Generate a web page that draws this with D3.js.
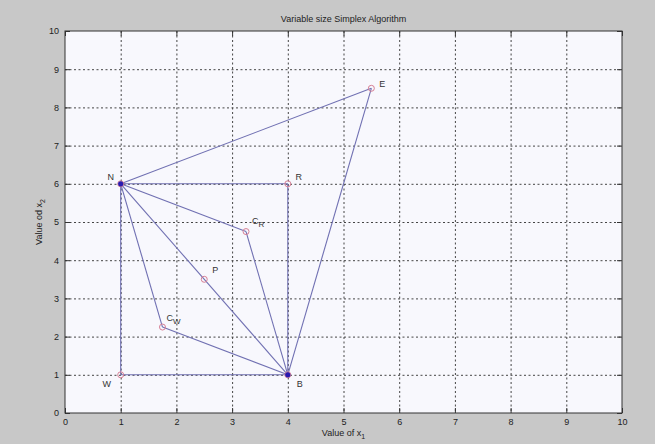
<!DOCTYPE html>
<html lang="en">
<head>
  <meta charset="UTF-8">
  <title>Variable size Simplex Algorithm</title>
  <script src="https://cdn.jsdelivr.net/npm/d3@7"></script>
  <style>
    body { margin: 0; background: #c8c8c8; }
    svg { display: block; font-family: "Liberation Sans", Arial, sans-serif; }
    .axis path { stroke: none; }
    .axis line { stroke: #333; }
    .axis text { font-size: 9px; fill: #222; }
    .grid line { stroke: #444; stroke-dasharray: 2,2.5; }
    .grid path { stroke: none; }
    .lbl { font-size: 9px; fill: #333; }
  </style>
</head>
<body>
  <script>
    // points of the simplex
    const names = ['N', 'W', 'B', 'R', 'E', 'P', 'C', 'C']
    const subs = ['', '', '', '', '', '', 'R', 'W']
    const xs = [1, 1, 4, 4, 5.5, 2.5, 3.25, 1.75]
    const ys = [6, 1, 1, 6, 8.5, 3.5, 4.75, 2.25]
    // label offsets in px (dx, dy)
    const ldx = [-10, -14, 12, 11, 11, 11, 12, 11]
    const ldy = [-4, 12, 12, -4, -1, -6, -8, -6]
    // segments between point indices
    const edges = [[0, 4], [4, 2], [0, 3], [3, 2], [0, 1], [1, 2], [0, 2], [0, 6], [6, 2], [0, 7], [7, 2]]
    const ticks = [0, 1, 2, 3, 4, 5, 6, 7, 8, 9, 10]

    const width = 655, height = 444
    const m = { left: 65, top: 31, right: 33, bottom: 31 }
    const w = width - m.left - m.right
    const h = height - m.top - m.bottom

    const svg = d3.select('body').append('svg')
      .attr('width', width)
      .attr('height', height)

    svg.append('rect').attr('width', width).attr('height', height).attr('fill', '#c8c8c8')

    const g = svg.append('g').attr('transform', `translate(${m.left},${m.top})`)

    const x = d3.scaleLinear().domain([0, 10]).range([0, w])
    const y = d3.scaleLinear().domain([0, 10]).range([h, 0])

    g.append('rect').attr('width', w).attr('height', h).attr('fill', '#f8f8fd')

    // grid
    g.append('g').attr('class', 'grid')
      .call(d3.axisBottom(x).tickValues(ticks.slice(1, -1)).tickSize(h).tickFormat(''))
    g.append('g').attr('class', 'grid')
      .call(d3.axisLeft(y).tickValues(ticks.slice(1, -1)).tickSize(-w).tickFormat(''))

    // axes, ticks pointing inward like matlab
    g.append('g').attr('class', 'axis').attr('transform', `translate(0,${h})`)
      .call(d3.axisBottom(x).tickValues(ticks).tickSizeInner(-5).tickSizeOuter(0).tickPadding(6))
    g.append('g').attr('class', 'axis')
      .call(d3.axisTop(x).tickValues(ticks).tickSizeInner(-5).tickSizeOuter(0).tickFormat(''))
    g.append('g').attr('class', 'axis')
      .call(d3.axisLeft(y).tickValues(ticks).tickSizeInner(-5).tickSizeOuter(0).tickPadding(6))
    g.append('g').attr('class', 'axis').attr('transform', `translate(${w},0)`)
      .call(d3.axisRight(y).tickValues(ticks).tickSizeInner(-5).tickSizeOuter(0).tickFormat(''))

    g.append('rect').attr('width', w).attr('height', h)
      .attr('fill', 'none').attr('stroke', '#333').attr('stroke-width', 1)

    // lines
    g.selectAll('.edge').data(edges).enter().append('line')
      .attr('class', 'edge')
      .attr('x1', d => x(xs[d[0]])).attr('y1', d => y(ys[d[0]]))
      .attr('x2', d => x(xs[d[1]])).attr('y2', d => y(ys[d[1]]))
      .attr('stroke', '#7070b2').attr('stroke-width', 1.1)

    // markers
    g.selectAll('.pt').data(xs).enter().append('circle')
      .attr('class', 'pt')
      .attr('cx', d => x(d)).attr('cy', (d, i) => y(ys[i]))
      .attr('r', 3)
      .attr('fill', 'none').attr('stroke', '#d77f95').attr('stroke-width', 1)
    g.selectAll('.dot').data([0, 2]).enter().append('circle')
      .attr('class', 'dot')
      .attr('cx', i => x(xs[i])).attr('cy', i => y(ys[i]))
      .attr('r', 2.6).attr('fill', '#2a1ab0')

    // point labels
    const lab = g.selectAll('.lbl').data(names).enter().append('text')
      .attr('class', 'lbl')
      .attr('x', (d, i) => x(xs[i]) + ldx[i])
      .attr('y', (d, i) => y(ys[i]) + ldy[i])
      .attr('text-anchor', 'middle')
    lab.append('tspan').text(d => d)
    lab.append('tspan').attr('dy', 3).attr('font-size', '8px').text((d, i) => subs[i])

    // title and axis labels
    svg.append('text').attr('x', m.left + w / 2).attr('y', 22)
      .attr('text-anchor', 'middle').attr('font-size', '9px').attr('fill', '#222')
      .text('Variable size Simplex Algorithm')

    const xl = svg.append('text').attr('x', m.left + w / 2).attr('y', 436)
      .attr('text-anchor', 'middle').attr('font-size', '9px').attr('fill', '#222')
    xl.append('tspan').text('Value of x')
    xl.append('tspan').attr('dy', 3).attr('font-size', '7px').text('1')

    const yl = svg.append('text')
      .attr('transform', `translate(42,${m.top + h / 2}) rotate(-90)`)
      .attr('text-anchor', 'middle').attr('font-size', '9px').attr('fill', '#222')
    yl.append('tspan').text('Value od x')
    yl.append('tspan').attr('dy', 3).attr('font-size', '7px').text('2')
  </script>
</body>
</html>
